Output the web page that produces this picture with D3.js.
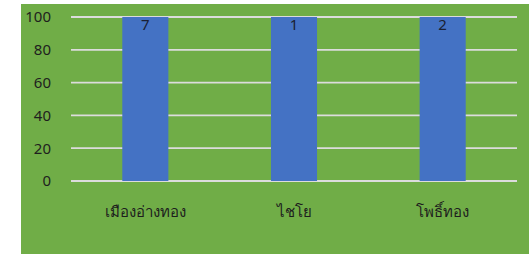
<!DOCTYPE html>
<html>
<head>
<meta charset="utf-8">
<script src="https://cdn.jsdelivr.net/npm/d3@7"></script>
<style>
body { margin:0; background:#fff; }
text { font-family: "Tahoma", "Leelawadee UI", "Noto Sans", "DejaVu Sans", sans-serif; }
</style>
</head>
<body>
<div id="chart"></div>
<script>
const width = 529
const height = 254

const categories = ["เมืองอ่างทอง", "ไชโย", "โพธิ์ทอง"]
const values = [100, 100, 100]
const labels = ["7", "1", "2"]
const yTicks = [0, 20, 40, 60, 80, 100]

const margin = {top:17, left:71, right:12, bottom:73}

const svg = d3.select("div#chart").append("svg").attr("width", width).attr("height", height)

// green chart area
svg.append("rect")
    .attr("x", 21).attr("y", 4)
    .attr("width", width - 21).attr("height", height - 4)
    .attr("fill", "#70AD47")

const x = d3.scaleBand().domain(categories).range([margin.left, width - margin.right]).paddingInner(0.69).paddingOuter(0.345)
const y = d3.scaleLinear().domain([0, 100]).range([height - margin.bottom, margin.top])

const gridGroup = svg.append("g").attr("class", "gridGroup")
gridGroup.selectAll("line").data(yTicks).enter()
    .append("line")
    .attr("x1", margin.left)
    .attr("x2", width - margin.right)
    .attr("y1", d => y(d))
    .attr("y2", d => y(d))
    .attr("stroke", "#DCDCDC")
    .attr("stroke-width", 1.8)

const yAxis = d3.axisLeft(y).tickValues(yTicks).tickSize(0).tickPadding(0)
const yAxisGroup = svg.append("g").attr("transform", `translate(51, 0)`).call(yAxis)
yAxisGroup.select(".domain").remove()
yAxisGroup.selectAll("text").attr("font-size", 15).attr("fill", "#1e1e1e")
    .style("font-family", "Tahoma, 'Noto Sans', 'DejaVu Sans', sans-serif")

const data = categories.map((c, i) => ({cat:c, value:values[i], label:labels[i]}))

const barGroup = svg.append("g").attr("class", "barGroup")
barGroup.selectAll("rect").data(data).enter()
    .append("rect")
    .attr("x", d => x(d.cat))
    .attr("y", d => y(d.value))
    .attr("width", x.bandwidth())
    .attr("height", d => y(0) - y(d.value))
    .attr("fill", "#4472C4")

barGroup.selectAll("text").data(data).enter()
    .append("text")
    .attr("x", d => x(d.cat) + x.bandwidth() / 2)
    .attr("y", d => y(d.value) + 13)
    .attr("text-anchor", "middle")
    .attr("font-size", 15)
    .attr("fill", "#1a1f33")
    .text(d => d.label)

const xAxis = d3.axisBottom(x).tickSize(0).tickPadding(0)
const xAxisGroup = svg.append("g").attr("transform", `translate(0, ${height - margin.bottom})`).call(xAxis)
xAxisGroup.select(".domain").remove()
xAxisGroup.selectAll("text").attr("font-size", 15).attr("fill", "#1e1e1e").attr("dy", 0).attr("y", 36)
</script>
</body>
</html>
